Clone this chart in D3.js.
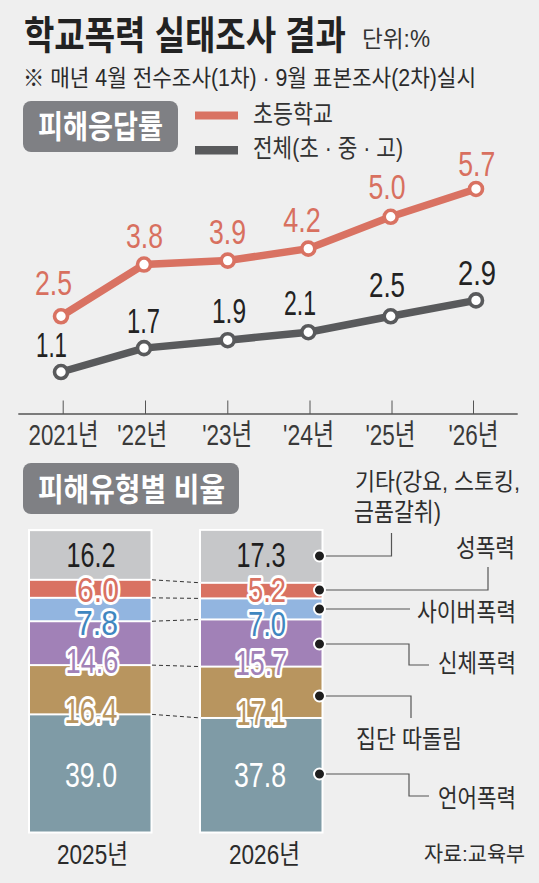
<!DOCTYPE html>
<html><head><meta charset="utf-8">
<script src="https://cdn.jsdelivr.net/npm/d3@7"></script>
<style>html,body{margin:0;padding:0;background:#efefef}svg{display:block}
text{font-family:"Liberation Sans","Noto Sans CJK KR",sans-serif}</style></head>
<body><svg id="c" width="539" height="883"></svg>
<script>
// ---- data ----
const lineYears = ["2021년","'22년","'23년","'24년","'25년","'26년"];
const elementary = [2.5,3.8,3.9,4.2,5.0,5.7];
const overall = [1.1,1.7,1.9,2.1,2.5,2.9];
const stackYears = ["2025년","2026년"];
const stackKeys = ["언어폭력","집단 따돌림","신체폭력","사이버폭력","성폭력","기타"];
const stack2025 = [39.0,16.4,14.6,7.8,6.0,16.2];
const stack2026 = [37.8,17.1,15.7,7.0,5.2,17.3];

// ---- style / layout ----
const svg = d3.select("#c");
const INK = "#2b2b2b", RED="#d97262", DARK="#595a5c", PILL="#7f8084";
const segColors = ["#7f9ba6","#b8955f","#a181b7","#92b5e0","#d97262","#c6c7c9"];
const segText = ["#ffffff","#b8955f","#a181b7","#3f87c0","#d97262","#1e1e1e"];

function t(str,x,y,size,width,opt={}){
  const s = svg.append("text").attr("x",x).attr("y",y).attr("font-size",size)
    .attr("fill",opt.fill||INK).attr("font-weight",opt.weight||400).text(str);
  if(width) s.attr("textLength",width).attr("lengthAdjust","spacingAndGlyphs");
  if(opt.halo) s.attr("stroke","#fff").attr("stroke-width",opt.halo).attr("stroke-linejoin","round").attr("paint-order","stroke");
  return s;
}
// header
t("학교폭력 실태조사 결과",24,48.5,39,322,{weight:700,fill:"#222"});
t("단위:%",362,47,23,68,{fill:"#333"});
t("※  매년 4월 전수조사(1차) · 9월 표본조사(2차)실시",23,86,23,453,{fill:"#2a2a2a"});
svg.append("rect").attr("x",23).attr("y",101).attr("width",155).attr("height",51).attr("rx",8).attr("fill",PILL);
t("피해응답률",38,138,32,125,{weight:700,fill:"#fff"});
svg.append("rect").attr("x",195).attr("y",111.5).attr("width",43).attr("height",8).attr("fill",RED);
svg.append("rect").attr("x",195).attr("y",146).attr("width",43).attr("height",8.5).attr("fill",DARK);
t("초등학교",253,123,25,80,{fill:"#333"});
t("전체(초 · 중 · 고)",253,157,25,150,{fill:"#333"});

// line chart
const x = d3.scaleOrdinal().domain(lineYears).range([61,144,227.7,308.3,390.7,476]);
const tickX = d3.scaleOrdinal().domain(lineYears).range([62.7,145,227.3,309.5,391.5,473]);
const y = d3.scaleLinear().domain([0,6]).range([415.8,177]);
const ax = svg.append("g").attr("transform","translate(0,414)")
  .call(d3.axisBottom(tickX).tickSize(-13.5).tickPadding(0));
ax.select(".domain").remove();
ax.selectAll(".tick line").attr("stroke","#555").attr("stroke-width",1);
svg.append("line").attr("x1",18.3).attr("x2",517.7).attr("y1",414).attr("y2",414).attr("stroke","#555").attr("stroke-width",1.3);
const tickDx=[0.3,-3.3,-0.6,-1.5,-1.5,0], tickW=[70,50,50,51,50,50];
ax.selectAll(".tick text").attr("font-size",29).attr("fill","#3a3a3a").attr("font-family",'"Liberation Sans","Noto Sans CJK KR",sans-serif')
  .attr("text-anchor","middle").attr("y",31).attr("dy",0)
  .attr("dx",(d,i)=>tickDx[i]).attr("textLength",(d,i)=>tickW[i]).attr("lengthAdjust","spacingAndGlyphs");
const lg = d3.line().x((d,i)=>x(lineYears[i])).y(d=>y(d));
const redCx=[53.5,144.5,227.5,302,387,476.7], redDy=[-21,-17,-16.6,-17,-18,-13], redW=[37,37,37,37.5,37,37];
const darkCx=[51.5,143.5,229,300,387,477], darkDy=[-14.7,-15,-17,-17,-19,-15], darkW=[31,33,34,32,36,38];
[[elementary,RED,redCx,redDy,redW,"#d8705f"],[overall,DARK,darkCx,darkDy,darkW,"#222"]].forEach(([vals,col,cxs,dys,ws,tc])=>{
  svg.append("path").attr("d",lg(vals)).attr("fill","none").attr("stroke",col).attr("stroke-width",7.5);
  svg.selectAll(null).data(vals).join("circle")
    .attr("cx",(d,i)=>x(lineYears[i])).attr("cy",d=>y(d)).attr("r",6.5)
    .attr("fill","#fff").attr("stroke",col).attr("stroke-width",3.6);
  vals.forEach((v,i)=>{
    t(v.toFixed(1),cxs[i],y(v)+dys[i],35,ws[i],{fill:tc}).attr("text-anchor","middle");
  });
});

// stacked section
svg.append("rect").attr("x",23).attr("y",463).attr("width",216).attr("height",51).attr("rx",8).attr("fill",PILL);
t("피해유형별 비율",38,501,32,187,{weight:700,fill:"#fff"});

const rows = [stack2025,stack2026];
const table = stackYears.map((yr,r)=>{const o={year:yr};stackKeys.forEach((k,i)=>o[k]=rows[r][i]);return o;});
const series = d3.stack().keys(stackKeys)(table);
const bx = d3.scaleOrdinal().domain(stackYears).range([30,201]);
const bw = 120.5;
const by = d3.scaleLinear().domain([0,100.05]).range([831.5,531]);

stackYears.forEach(yr=>{
  svg.append("rect").attr("x",bx(yr)-2).attr("y",529).attr("width",bw+4).attr("height",304.5).attr("fill","#fff");
});
series.forEach((s,si)=>{
  svg.selectAll(null).data(s).join("rect")
    .attr("x",d=>bx(d.data.year)).attr("width",bw)
    .attr("y",d=>by(d[1])+(si<5?1:0)).attr("height",d=>by(d[0])-by(d[1])-(si<5?1:0)-(si>0?1:0))
    .attr("fill",segColors[si]);
});
// dashed connectors at segment boundaries
for(let si=1;si<6;si++){
  const a=series[si][0][0], b=series[si][1][0];
  svg.append("line").attr("x1",152).attr("x2",201).attr("y1",by(a)).attr("y2",by(b))
    .attr("stroke","#333").attr("stroke-width",1).attr("stroke-dasharray","4 3");
}
// value labels
const labelX = [[91,91,92,97,98,91],[260,261,261,267,267,261]];
const labelY = [[787,723,673,635,602,567],[787,725,675,636,602,567]];
const labelW = [[52,53,53,42,42,49],[52,49,52,38,38,49]];
rows.forEach((vals,r)=>{
  vals.forEach((v,i)=>{
    const halo = (i>=1&&i<=4)?6:0;
    t(v.toFixed(1),labelX[r][i],labelY[r][i],35,labelW[r][i],{fill:segText[i],halo}).attr("text-anchor","middle");
  });
  t(stackYears[r],r?229:57,864,27,71,{fill:"#2b2b2b"});
});

// callouts
const dotX = 319.5;
const dotY = [774,696,644,609,590,556];
const leader = [
  [[dotX,774],[409,774],[409,796],[429,796]],
  [[dotX,696],[411,696],[411,718]],
  [[dotX,644],[409,644],[409,665],[429,665]],
  [[dotX,609],[410,609]],
  [[dotX,590],[488,590],[488,567]],
  [[dotX,556],[391.5,556],[391.5,533]]
];
const ll = d3.line();
leader.forEach(p=>svg.append("path").attr("d",ll(p)).attr("fill","none").attr("stroke","#555").attr("stroke-width",1.2));
dotY.forEach(cy=>svg.append("circle").attr("cx",dotX).attr("cy",cy).attr("r",5.5).attr("fill","#1e1e1e").attr("stroke","#fff").attr("stroke-width",2));

const C="#2e2e2e";
t("기타(강요, 스토킹,",355,490,23.5,165,{fill:C});
t("금품갈취)",354,521,25,87,{fill:C});
t("성폭력",456,557,25,59,{fill:C});
t("사이버폭력",417,620.5,25,99,{fill:C});
t("신체폭력",438,672,25,78,{fill:C});
t("집단 따돌림",356,748,25,106,{fill:C});
t("언어폭력",438,807,25,78,{fill:C});
t("자료:교육부",424,861,21,101,{fill:C});
</script></body></html>
